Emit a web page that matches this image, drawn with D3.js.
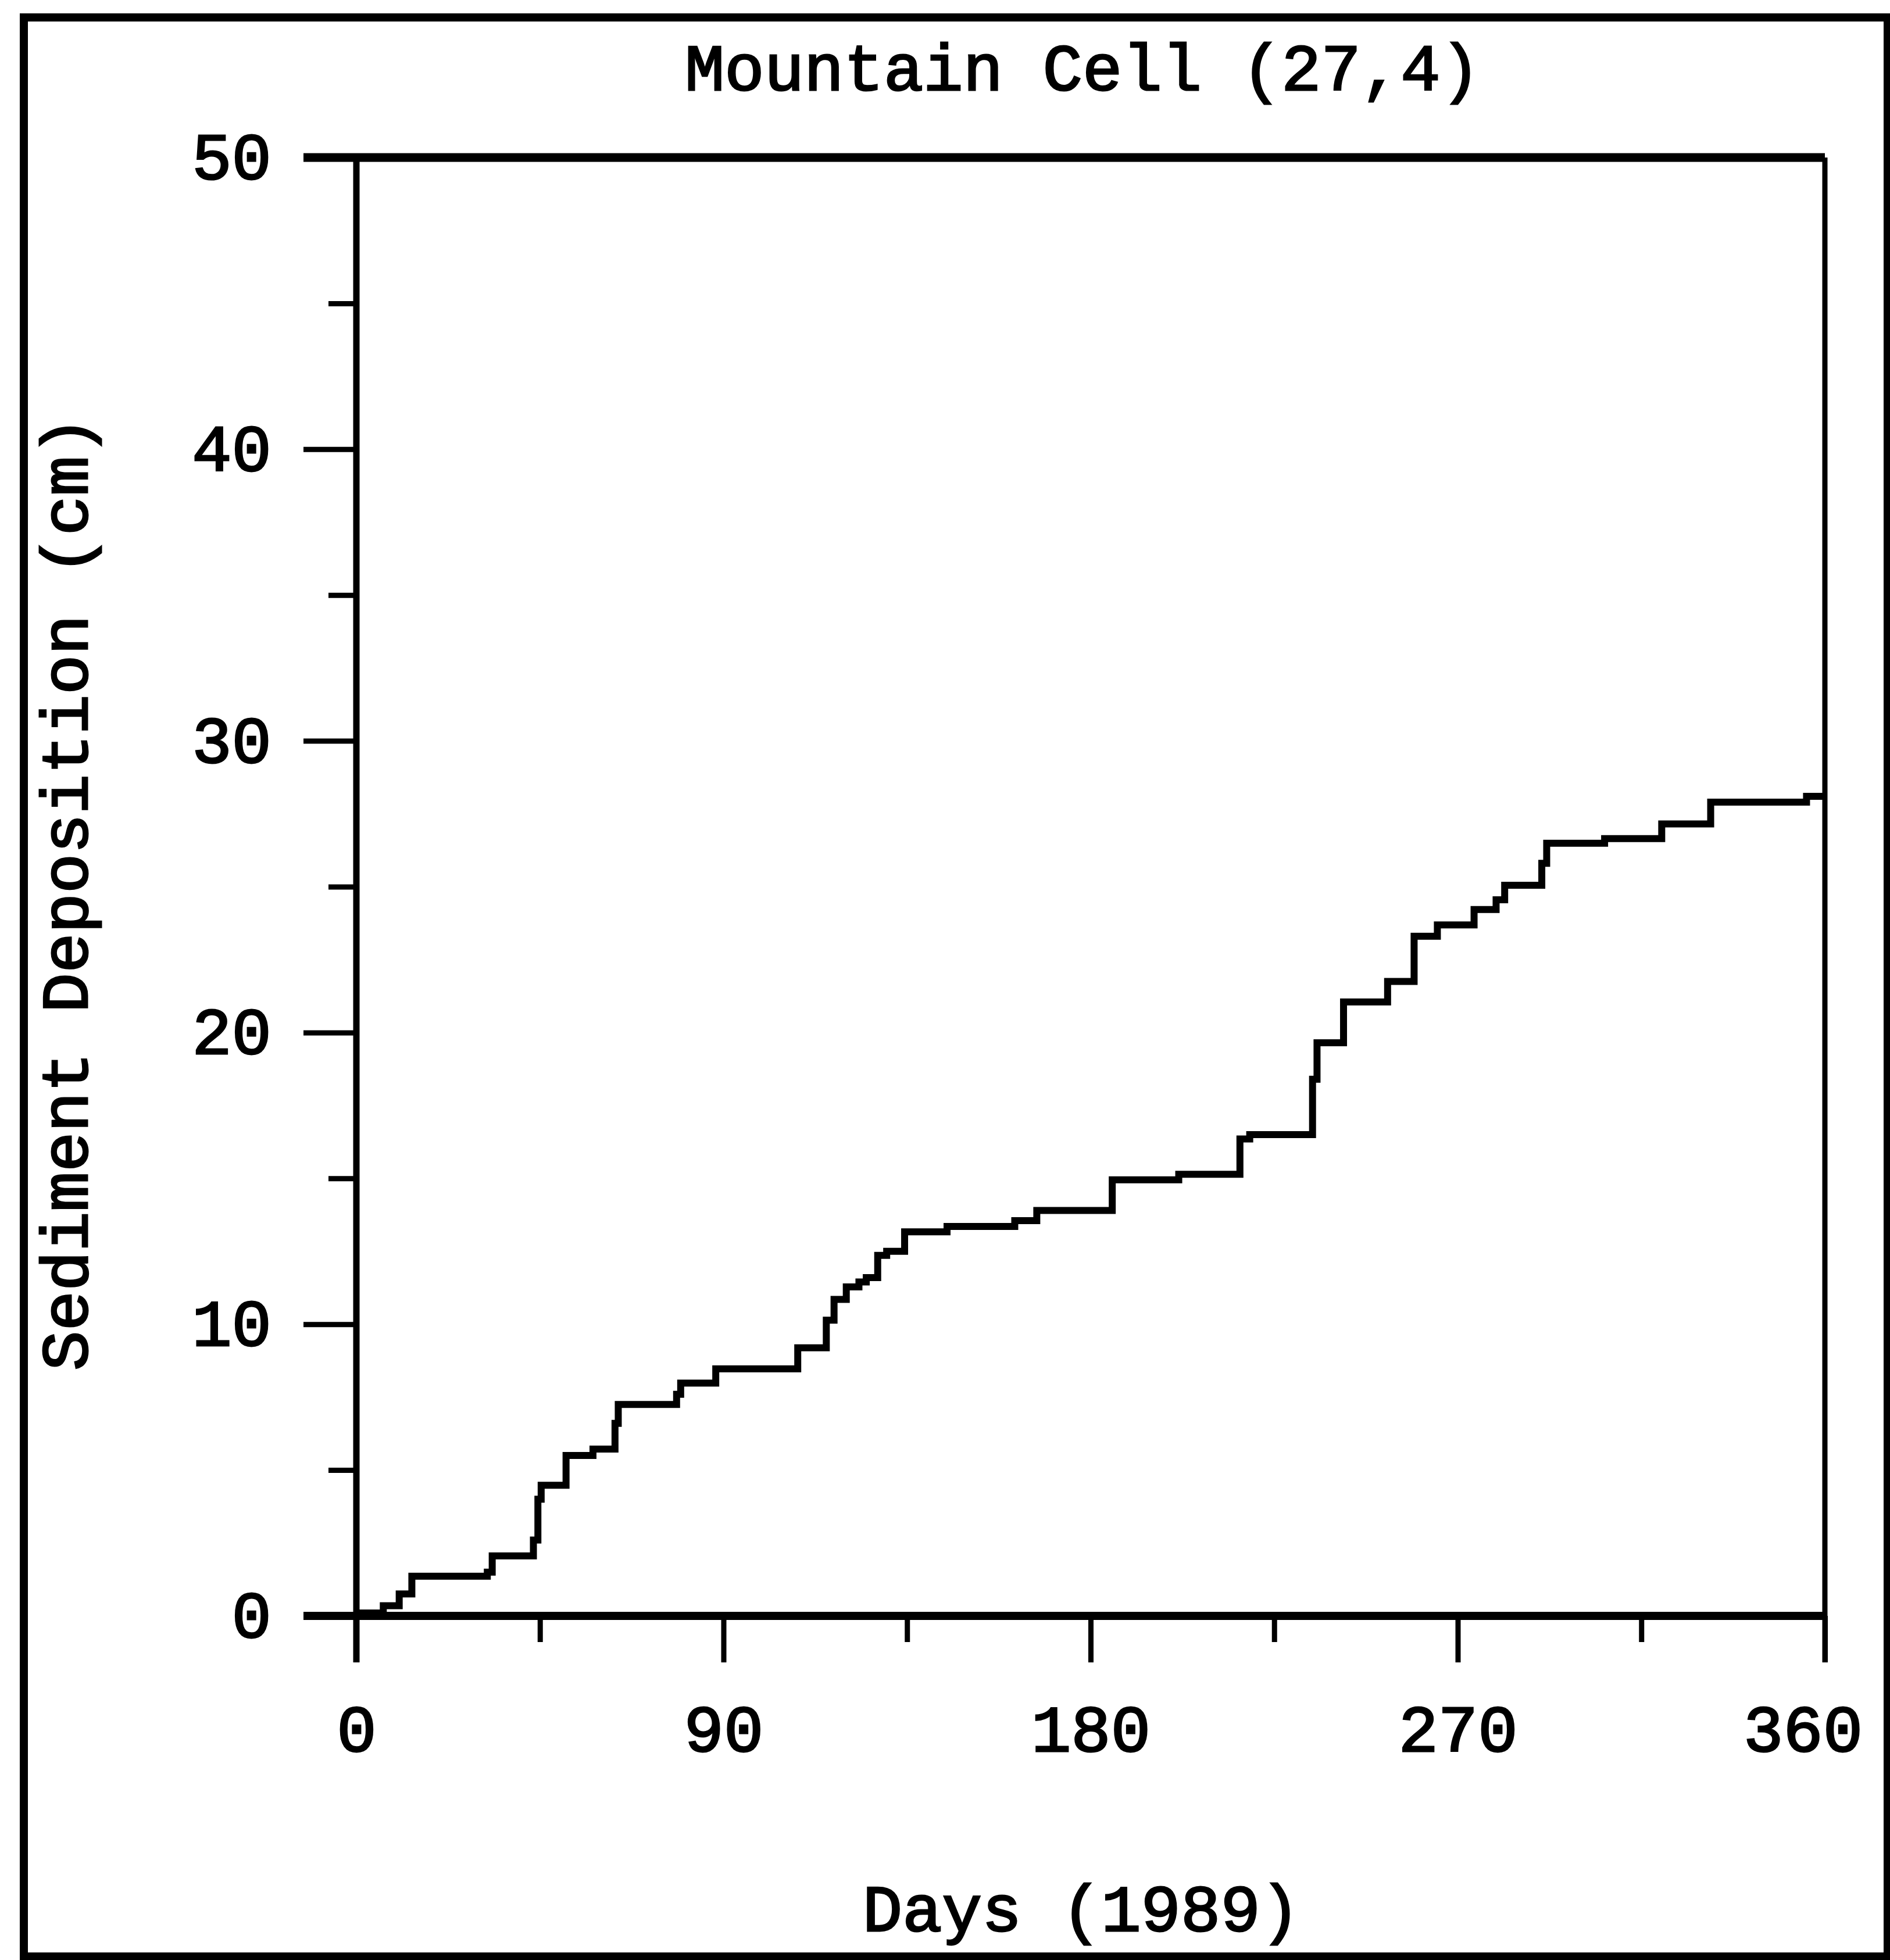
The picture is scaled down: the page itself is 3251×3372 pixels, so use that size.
<!DOCTYPE html>
<html>
<head>
<meta charset="utf-8">
<script src="https://cdn.jsdelivr.net/npm/d3@7"></script>
<style>
  html, body { margin: 0; padding: 0; background: #fff; }
  svg { display: block; background: #fff; }
  text { font-family: "Liberation Mono", "DejaVu Sans Mono", monospace; font-weight: normal; fill: #000; stroke: #000; stroke-width: 3px; }
</style>
</head>
<body>
<svg id="chart"></svg>
<script>
// текст графика
const title = 'Mountain Cell (27,4)';
const xLabel = 'Days (1989)';
const yLabel = 'Sediment Deposition (cm)';

// ступенчатая кривая: день начала ступени и значение (см)
const days = [0, 6.6, 10.5, 13.6, 32.1, 33.3, 43.4, 44.5, 45.3, 51.4,
    58, 63.4, 64.2, 78.5, 79.5, 88.1, 108.2, 115.2, 117.1, 120.1,
    123.2, 125, 127.8, 130, 134.4, 144.8, 161.4, 166.8, 185.3, 201.6,
    216.6, 219, 234.4, 235.5, 242, 252.8, 259.3, 265, 274, 279.4,
    281.5, 290.6, 291.8, 306, 320, 332, 355.5, 360];
const deposition = [0.1, 0.35, 0.75, 1.36, 1.5, 2.06, 2.6, 4.0, 4.48, 5.5,
    5.72, 6.6, 7.25, 7.6, 7.98, 8.47, 9.19, 10.14, 10.85, 11.28,
    11.45, 11.6, 12.36, 12.5, 13.17, 13.35, 13.55, 13.9, 14.95, 15.14,
    16.35, 16.5, 18.4, 19.65, 21.05, 21.75, 23.3, 23.69, 24.22, 24.55,
    25.05, 25.8, 26.49, 26.65, 27.15, 27.9, 28.1, 28.1];

// деления осей
const xMajorTicks = [0, 90, 180, 270, 360];
const xMinorTicks = [45, 135, 225, 315];
const yMajorTicks = [0, 10, 20, 30, 40, 50];
const yMinorTicks = [5, 15, 25, 35, 45];

function drawChart() {
    const svg = d3.select('#chart')
        .attr('width', 3251)
        .attr('height', 3372);

    const area = { left: 613, right: 3139, top: 271, bottom: 2780 };

    const scX = d3.scaleLinear().domain([0, 360]).range([area.left, area.right]);
    const scY = d3.scaleLinear().domain([0, 50]).range([area.bottom, area.top]);

    // внешняя рамка
    svg.append('rect')
        .attr('x', 41).attr('y', 30)
        .attr('width', 3206).attr('height', 3336)
        .attr('fill', 'none')
        .attr('stroke', '#000')
        .attr('stroke-width', 14);

    // оси
    const gxMinor = svg.append('g')
        .attr('transform', `translate(0, ${area.bottom})`)
        .call(d3.axisBottom(scX).tickValues(xMinorTicks).tickSize(45).tickFormat(''));
    const gx = svg.append('g')
        .attr('transform', `translate(0, ${area.bottom})`)
        .call(d3.axisBottom(scX).tickValues(xMajorTicks).tickSize(80));
    const gyMinor = svg.append('g')
        .attr('transform', `translate(${area.left}, 0)`)
        .call(d3.axisLeft(scY).tickValues(yMinorTicks).tickSize(48).tickFormat(''));
    const gy = svg.append('g')
        .attr('transform', `translate(${area.left}, 0)`)
        .call(d3.axisLeft(scY).tickValues(yMajorTicks).tickSize(91));

    [gxMinor, gx, gyMinor, gy].forEach(g => {
        g.select('.domain').remove();
        g.selectAll('line').attr('stroke', '#000').attr('stroke-width', 9);
    });

    gx.selectAll('text')
        .attr('y', 233)
        .attr('dy', null)
        .attr('dx', d => d === 360 ? -38 : 0)
        .style('font-size', '114px');

    gy.selectAll('text')
        .attr('x', -146)
        .attr('dy', '0.32em')
        .style('font-size', '114px');

    // рамка области построения
    svg.append('line')
        .attr('x1', scX(0) - 91).attr('x2', scX(360))
        .attr('y1', scY(50)).attr('y2', scY(50))
        .attr('stroke', '#000').attr('stroke-width', 15);
    svg.append('line')
        .attr('x1', scX(0) - 91).attr('x2', scX(360) + 4)
        .attr('y1', scY(0)).attr('y2', scY(0))
        .attr('stroke', '#000').attr('stroke-width', 14);
    svg.append('line')
        .attr('x1', scX(0)).attr('x2', scX(0))
        .attr('y1', scY(50)).attr('y2', scY(0) + 80)
        .attr('stroke', '#000').attr('stroke-width', 11);
    svg.append('line')
        .attr('x1', scX(360)).attr('x2', scX(360))
        .attr('y1', scY(50)).attr('y2', scY(0) + 80)
        .attr('stroke', '#000').attr('stroke-width', 9);

    // кривая
    const points = days.map((d, i) => [scX(d), scY(deposition[i])]);
    const lineGen = d3.line().curve(d3.curveStepAfter);
    svg.append('path')
        .attr('d', lineGen(points))
        .attr('fill', 'none')
        .attr('stroke', '#000')
        .attr('stroke-width', 12)
        .attr('stroke-linejoin', 'miter');

    // подписи
    svg.append('text')
        .attr('x', 1862).attr('y', 155)
        .attr('text-anchor', 'middle')
        .style('font-size', '114px')
        .text(title);

    svg.append('text')
        .attr('x', 1860).attr('y', 3322)
        .attr('text-anchor', 'middle')
        .style('font-size', '114px')
        .text(xLabel);

    svg.append('text')
        .attr('transform', 'translate(150, 1537) rotate(-90)')
        .attr('text-anchor', 'middle')
        .style('font-size', '114px')
        .text(yLabel);
}

drawChart();
</script>
</body>
</html>
